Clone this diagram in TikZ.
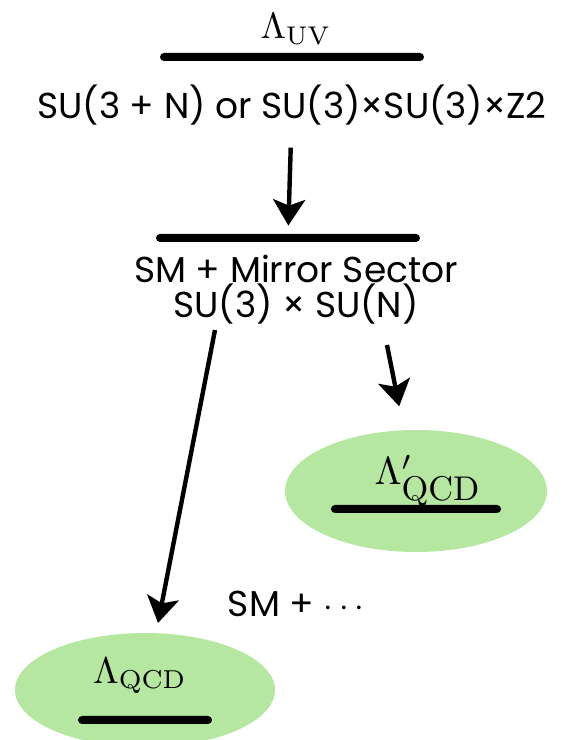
\documentclass[tikz,border=0pt]{standalone}
\usepackage[no-math]{fontspec}
\setmainfont{Poppins}
\usetikzlibrary{positioning, arrows.meta, shapes.geometric}
\definecolor{leafgreen}{RGB}{181,231,160}

\begin{document}
\begin{tikzpicture}[
    x=0.5pt, y=0.5pt,
    hand/.style={font=\fontsize{18}{17.5}\selectfont, align=center, inner sep=2pt},
    bar/.style={fill=black, rounded corners=2pt, minimum height=4pt, inner sep=0pt},
    blob/.style={ellipse, fill=leafgreen, inner sep=0pt},
    arrow/.style={-{Stealth[length=13pt, width=16pt, inset=3pt]}, line width=2.2pt}
]
  \clip (0,0) rectangle (563,740);

  \node[inner sep=1pt] (uv) at (296,711) {\scalebox{1.83}{$\Lambda_{\mathrm{UV}}$}};
  \node[bar, minimum width=132pt] (uvbar) at (292,683) {};
  \node[hand] (grp) at (292,635) {SU(3 + N) or SU(3)×SU(3)×Z2};

  \node[bar, minimum width=132pt] (smbar) at (288,502) {};
  \node[hand] (sector) at (296,450) {SM + Mirror Sector\\SU(3) × SU(N)};

  \node[blob, minimum width=131pt, minimum height=61pt] (dark) at (416,249) {};
  \node[inner sep=1pt] (darklam) at (428,259)
    {\scalebox{1.95}{$\Lambda'_{\scalebox{0.88}{$\mathrm{QCD}$}}$}};
  \node[bar, minimum width=85pt] (darkbar) at (416,231) {};

  \node[hand] (dots) at (296,136) {SM + $\cdots$};

  \node[blob, minimum width=130pt, minimum height=57pt] (vis) at (145,50) {};
  \node[inner sep=1pt] (vislam) at (140,64) {\scalebox{1.85}{$\Lambda_{\mathrm{QCD}}$}};
  \node[bar, minimum width=67pt] (visbar) at (145,20) {};

  \coordinate (lsrc) at (215,410);
  \coordinate (rsrc) at (387,395);

  \draw[arrow, shorten <=9pt, shorten >=4pt] (grp) -- (smbar);
  \draw[arrow, shorten >=5pt] (lsrc) -- (vis);
  \draw[arrow, shorten >=12pt] (rsrc) -- (dark);
\end{tikzpicture}
\end{document}
